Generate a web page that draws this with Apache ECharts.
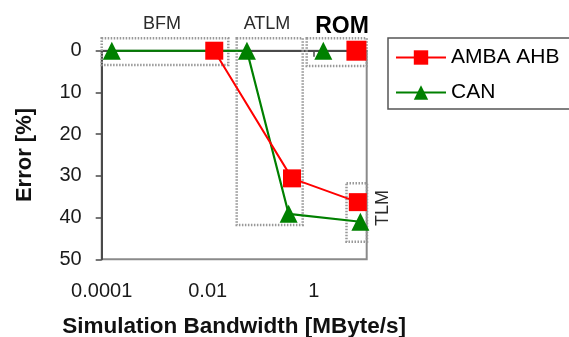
<!DOCTYPE html>
<html>
<head>
<meta charset="utf-8">
<title>Error vs Simulation Bandwidth</title>
<script src="https://cdn.jsdelivr.net/npm/echarts@6.0.0/dist/echarts.min.js"></script>
<style>
html, body { margin: 0; padding: 0; background: #fff; }
#main { width: 569px; height: 337px; }
</style>
</head>
<body>
<div id="main"></div>
<script>
// bandwidth [MByte/s] and error [%]
var ambaX = [0.0133, 0.39, 6.8];
var ambaY = [0, 30.6, 36.3];
var ambaRomX = [6.4];
var ambaRomY = [0];
var canX = [0.000155, 0.055, 0.336, 7.6];
var canY = [0, 0, 39.1, 41];
var canRomX = [1.52];
var canRomY = [0];

var xTickValues = [0.0001, 0.01, 1];
var xTickLabels = ['0.0001', '0.01', '1'];
var yTicks = [0, 10, 20, 30, 40, 50];
var seriesNames = ['AMBA AHB', 'CAN'];

var FONT = '"Liberation Sans", Arial, sans-serif';

function pairs(xs, ys) {
	var out = [];
	for (var i = 0; i < xs.length; i++) {
		out.push([xs[i], ys[i]]);
	}
	return out;
}

// dotted annotation box
function box(x, y, w, h) {
	return {
		type: 'rect',
		z: 1,
		shape: { x: x, y: y, width: w, height: h },
		style: { fill: 'none', stroke: '#999', lineWidth: 2.5, lineDash: [1.5, 1.5] }
	};
}

function label(text, x, y, size, bold, rot) {
	return {
		type: 'text',
		z: 5,
		x: x,
		y: y,
		rotation: rot || 0,
		style: {
			text: text,
			fill: bold ? '#000' : '#2b2b2b',
			font: (bold ? 'bold ' : '') + size + 'px ' + FONT,
			align: 'center',
			verticalAlign: 'middle'
		}
	};
}

var chart = echarts.init(document.getElementById('main'));

var option = {
	animation: false,
	backgroundColor: '#fff',
	grid: {
		left: 101.7,
		right: 202.3,
		top: 50.7,
		bottom: 77.7,
		show: true,
		borderColor: '#8a8a8a',
		borderWidth: 2,
		outerBoundsMode: 'none'
	},
	legend: {
		data: seriesNames,
		orient: 'vertical',
		left: 395,
		top: 47,
		padding: 0,
		itemWidth: 50,
		itemHeight: 18,
		itemGap: 14,
		textStyle: { fontSize: 21, color: '#000', fontFamily: FONT }
	},
	xAxis: {
		type: 'log',
		logBase: 10,
		min: 0.0001,
		max: 10,
		name: 'Simulation Bandwidth [MByte/s]',
		nameLocation: 'middle',
		nameGap: 56,
		nameTextStyle: { fontSize: 22.5, fontWeight: 'bold', color: '#111', fontFamily: FONT },
		axisLine: { lineStyle: { color: '#4a4a4a', width: 2 } },
		axisTick: { show: true, length: 6, customValues: xTickValues, lineStyle: { color: '#4a4a4a', width: 1.5 } },
		axisLabel: {
			customValues: xTickValues,
			margin: 22,
			fontSize: 20,
			color: '#1a1a1a',
			fontFamily: FONT,
			formatter: function(v) {
				for (var i = 0; i < xTickValues.length; i++) {
					if (Math.abs(Math.log10(v) - Math.log10(xTickValues[i])) < 1e-6) return xTickLabels[i];
				}
				return '';
			}
		},
		splitLine: { show: false },
		minorTick: { show: false }
	},
	yAxis: {
		type: 'value',
		inverse: true,
		min: yTicks[0],
		max: yTicks[yTicks.length - 1],
		interval: yTicks[1] - yTicks[0],
		name: 'Error [%]',
		nameLocation: 'middle',
		nameGap: 66,
		nameTextStyle: { fontSize: 22, fontWeight: 'bold', color: '#111', fontFamily: FONT },
		axisLine: { show: true, lineStyle: { color: '#4a4a4a', width: 2 } },
		axisTick: { show: true, length: 6, lineStyle: { color: '#4a4a4a', width: 1.5 } },
		axisLabel: { margin: 20, fontSize: 20, color: '#1a1a1a', fontFamily: FONT },
		splitLine: { show: false }
	},
	series: [{
		name: 'CAN',
		type: 'line',
		data: pairs(canX, canY),
		symbol: 'triangle',
		symbolSize: 18,
		itemStyle: { color: '#008000' },
		lineStyle: { color: '#008000', width: 2.2 },
		z: 3
	}, {
		name: 'CAN',
		type: 'line',
		data: pairs(canRomX, canRomY),
		symbol: 'triangle',
		symbolSize: 18,
		itemStyle: { color: '#008000' },
		lineStyle: { color: '#008000', width: 2.2 },
		z: 3
	}, {
		name: 'AMBA AHB',
		type: 'line',
		data: pairs(ambaX, ambaY),
		symbol: 'rect',
		symbolSize: 18,
		itemStyle: { color: '#ff0000' },
		lineStyle: { color: '#ff0000', width: 2 },
		z: 4
	}, {
		name: 'AMBA AHB',
		type: 'line',
		data: pairs(ambaRomX, ambaRomY),
		symbol: 'rect',
		symbolSize: 20,
		itemStyle: { color: '#ff0000' },
		lineStyle: { color: '#ff0000', width: 2 },
		z: 4
	}],
	graphic: [
		box(101.7, 38.3, 126.6, 26.7), // BFM
		box(236.7, 38.3, 66, 186.7), // ATLM
		box(306.7, 38.3, 60, 27.7), // ROM
		box(346.5, 183.3, 20.5, 58.5), // TLM
		label('BFM', 162, 24, 18, false),
		label('ATLM', 267, 24, 18, false),
		label('ROM', 342, 27, 23, true),
		label('TLM', 383, 208, 18, false, Math.PI / 2),
		{ // legend frame, runs past the right edge like the original
			type: 'rect',
			z: 1,
			shape: { x: 388, y: 38, width: 200, height: 71 },
			style: { fill: 'none', stroke: '#555', lineWidth: 1.5 }
		}
	]
};

chart.setOption(option);
</script>
</body>
</html>
